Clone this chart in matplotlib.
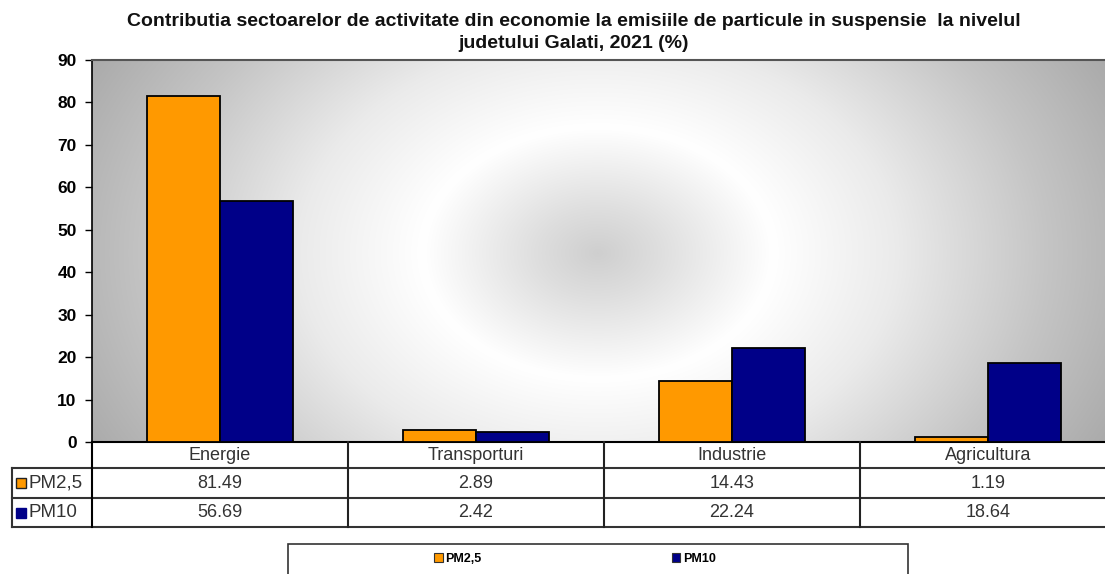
import numpy as np
import matplotlib
matplotlib.use("Agg")
import matplotlib.pyplot as plt
from matplotlib.patches import Rectangle
from matplotlib.transforms import blended_transform_factory

plt.rcParams['font.family'] = ['Liberation Sans', 'DejaVu Sans']

sectors = ['Energie', 'Transporturi', 'Industrie', 'Agricultura']
series_names = ['PM2,5', 'PM10']
pm25 = [81.49, 2.89, 14.43, 1.19]
pm10 = [56.69, 2.42, 22.24, 18.64]
yticks = [0, 10, 20, 30, 40, 50, 60, 70, 80, 90]
title_lines = ['Contributia sectoarelor de activitate din economie la emisiile de particule in suspensie  la nivelul',
               'judetului Galati, 2021 (%)']

colors = ['#FF9900', '#000088']

W, H = 1105, 574
fig = plt.figure(figsize=(W / 100, H / 100), dpi=100)

# plot area in pixels: left 92, top 60, bottom 442; it runs past the right edge
left, top, bottom, right = 92, 60, 442, 1116
ax = fig.add_axes([left / W, 1 - bottom / H, (right - left) / W, (bottom - top) / H])

# radial grey background
nx, ny = 400, 200
gx = np.linspace(left, right, nx)
gy = np.linspace(top, bottom, ny)
X, Y = np.meshgrid(gx, gy)
r = np.hypot(X - 598, (Y - 253) / 0.72)
shade = np.interp(r, [0, 60, 175, 300, 450, 620], [0.81, 0.87, 1.0, 0.92, 0.77, 0.63])
ax.imshow(np.dstack([shade] * 3), extent=[0, 1, 0, 1], transform=ax.transAxes,
          aspect='auto', zorder=0, interpolation='bilinear')

x = np.arange(len(sectors))
bw = 0.287
ax.bar(x - bw / 2, pm25, bw, color=colors[0], edgecolor='black', linewidth=1.3, zorder=3)
ax.bar(x + bw / 2, pm10, bw, color=colors[1], edgecolor='black', linewidth=1.3, zorder=3)

ax.set_xlim(-0.5, len(sectors) - 0.5)
ax.set_ylim(0, 90)
ax.set_yticks(yticks)
ax.set_yticklabels([str(t) for t in yticks], fontsize=12.5, fontweight='bold')
ax.tick_params(axis='y', length=5, width=1, pad=6)
ax.set_xticks([])
ax.spines['right'].set_visible(False)
ax.spines['top'].set_color('#555555')
ax.spines['top'].set_linewidth(1.5)
ax.spines['left'].set_linewidth(1.2)
ax.spines['bottom'].set_linewidth(1.5)

for k, line in enumerate(title_lines):
    fig.text(574 / W, 1 - (22 + 22 * k) / H, line, ha='center', va='center',
             fontsize=14, fontweight='bold', color='#111111')

# data table under the axis
ph = bottom - top
rows = [(bottom - yy) / ph for yy in (442, 468, 498, 527)]
tr = blended_transform_factory(ax.transData, ax.transAxes)
lab_x = (12 - left) / (right - left)
for yy in rows[1:]:
    ax.plot([lab_x, 1], [yy, yy], transform=ax.transAxes, color='#333333', lw=1.5,
            clip_on=False, zorder=5)
ax.plot([0, 0], [rows[0], rows[-1]], transform=ax.transAxes, color='black', lw=1.5,
        clip_on=False, zorder=5)
ax.plot([lab_x, lab_x], [rows[1], rows[-1]], transform=ax.transAxes, color='#333333',
        lw=1.5, clip_on=False, zorder=5)
for i in range(1, len(sectors)):
    ax.plot([i - 0.5, i - 0.5], [rows[0], rows[-1]], transform=tr, color='#222222',
            lw=1.5, clip_on=False, zorder=5)

for i, name in enumerate(sectors):
    ax.text(i, (rows[0] + rows[1]) / 2, name, transform=tr, ha='center', va='center',
            fontsize=13, color='#333333')
    ax.text(i, (rows[1] + rows[2]) / 2, f'{pm25[i]:.2f}', transform=tr, ha='center',
            va='center', fontsize=13, color='#333333')
    ax.text(i, (rows[2] + rows[3]) / 2, f'{pm10[i]:.2f}', transform=tr, ha='center',
            va='center', fontsize=13, color='#333333')

for k, name in enumerate(series_names):
    yc = (rows[k + 1] + rows[k + 2]) / 2
    ax.plot([lab_x + 0.009], [yc], transform=ax.transAxes, marker='s', ms=7,
            color=colors[k], mec='#222222' if k == 0 else colors[k], mew=1.0,
            clip_on=False, zorder=6)
    ax.text(lab_x + 0.016, yc, name, transform=ax.transAxes, ha='left', va='center',
            fontsize=13.5, color='#333333')

# legend box at the bottom
fig.patches.append(Rectangle((288 / W, 1 - 580 / H), 620 / W, 36 / H,
                             transform=fig.transFigure, facecolor='white',
                             edgecolor='#333333', lw=1.2))
handles = [Rectangle((0, 0), 1, 1, facecolor=c, edgecolor='#333333', lw=0.8) for c in colors]
fig.legend(handles, series_names, loc='center', bbox_to_anchor=(575 / W, 1 - 559 / H),
           ncol=2, frameon=False, handlelength=0.7, handleheight=0.7, handletextpad=0.2,
           columnspacing=15.2, prop={'size': 9, 'weight': 'bold'})

fig.savefig('out.png', dpi=100)
